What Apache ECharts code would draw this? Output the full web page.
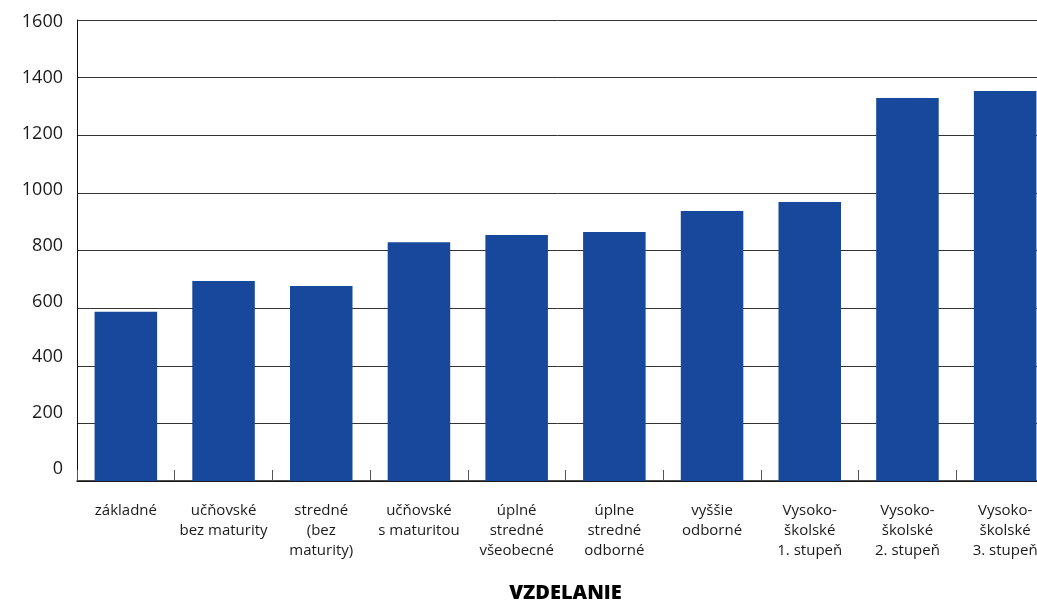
<!DOCTYPE html>
<html>
<head>
<meta charset="utf-8">
<script src="https://cdn.jsdelivr.net/npm/echarts@6/dist/echarts.min.js"></script>
<style>
  html, body { margin: 0; padding: 0; background: #fff; }
  #chart { width: 1037px; height: 601px; }
</style>
</head>
<body>
<div id="chart"></div>
<script>
var categories = [
    'základné',
    'učňovské\nbez maturity',
    'stredné\n(bez\nmaturity)',
    'učňovské\ns maturitou',
    'úplné\nstredné\nvšeobecné',
    'úplne\nstredné\nodborné',
    'vyššie\nodborné',
    'Vysoko-\nškolské\n1. stupeň',
    'Vysoko-\nškolské\n2. stupeň',
    'Vysoko-\nškolské\n3. stupeň'
];
var values = [587, 694, 677, 829, 854, 864, 937, 968, 1329, 1354];
var axisTitle = 'VZDELANIE';
var yMin = 0, yMax = 1600, yStep = 200;

var font = '"Open Sans", "Noto Sans", sans-serif';
var chart = echarts.init(document.getElementById('chart'));

chart.setOption({
    animation: false,
    textStyle: { fontFamily: font },
    grid: [
        // plot runs past the right edge, so the last bar is cut off like in the original
        { left: 77, width: 977, top: 20, height: 461, outerBoundsMode: 'none', containLabel: false },
        // labels of the value axis sit slightly off the gridlines in the original
        { left: 77, width: 977, top: 22, height: 447, outerBoundsMode: 'none', containLabel: false }
    ],
    xAxis: [{
        type: 'category',
        data: categories,
        gridIndex: 0,
        axisLine: { lineStyle: { color: '#111', width: 1.5 } },
        axisTick: { show: true, inside: true, length: 11, lineStyle: { color: '#555' } },
        axisLabel: {
            interval: 0, margin: 20, fontSize: 15, lineHeight: 20,
            color: '#1a1a1a', fontFamily: font
        },
        name: axisTitle,
        nameLocation: 'middle',
        nameGap: 102,
        nameTextStyle: { fontSize: 20, fontWeight: 900, color: '#000', fontFamily: font }
    }, {
        type: 'category',
        data: categories,
        gridIndex: 1,
        show: false
    }],
    yAxis: [{
        type: 'value',
        gridIndex: 0,
        min: yMin, max: yMax, interval: yStep,
        axisLine: { show: true, lineStyle: { color: '#111', width: 1 } },
        axisTick: { show: false },
        axisLabel: { show: false },
        splitLine: { lineStyle: { color: '#333', width: 1 } }
    }, {
        type: 'value',
        gridIndex: 1,
        min: yMin, max: yMax, interval: yStep,
        axisLine: { show: false },
        axisTick: { show: false },
        splitLine: { show: false },
        axisLabel: {
            margin: 14, fontSize: 18, color: '#1a1a1a', fontFamily: font,
            formatter: function (v) { return String(v); }
        }
    }],
    series: [{
        type: 'bar',
        xAxisIndex: 0,
        yAxisIndex: 0,
        data: values,
        barWidth: '64%',
        itemStyle: { color: '#18489c' }
    }]
});
</script>
</body>
</html>
